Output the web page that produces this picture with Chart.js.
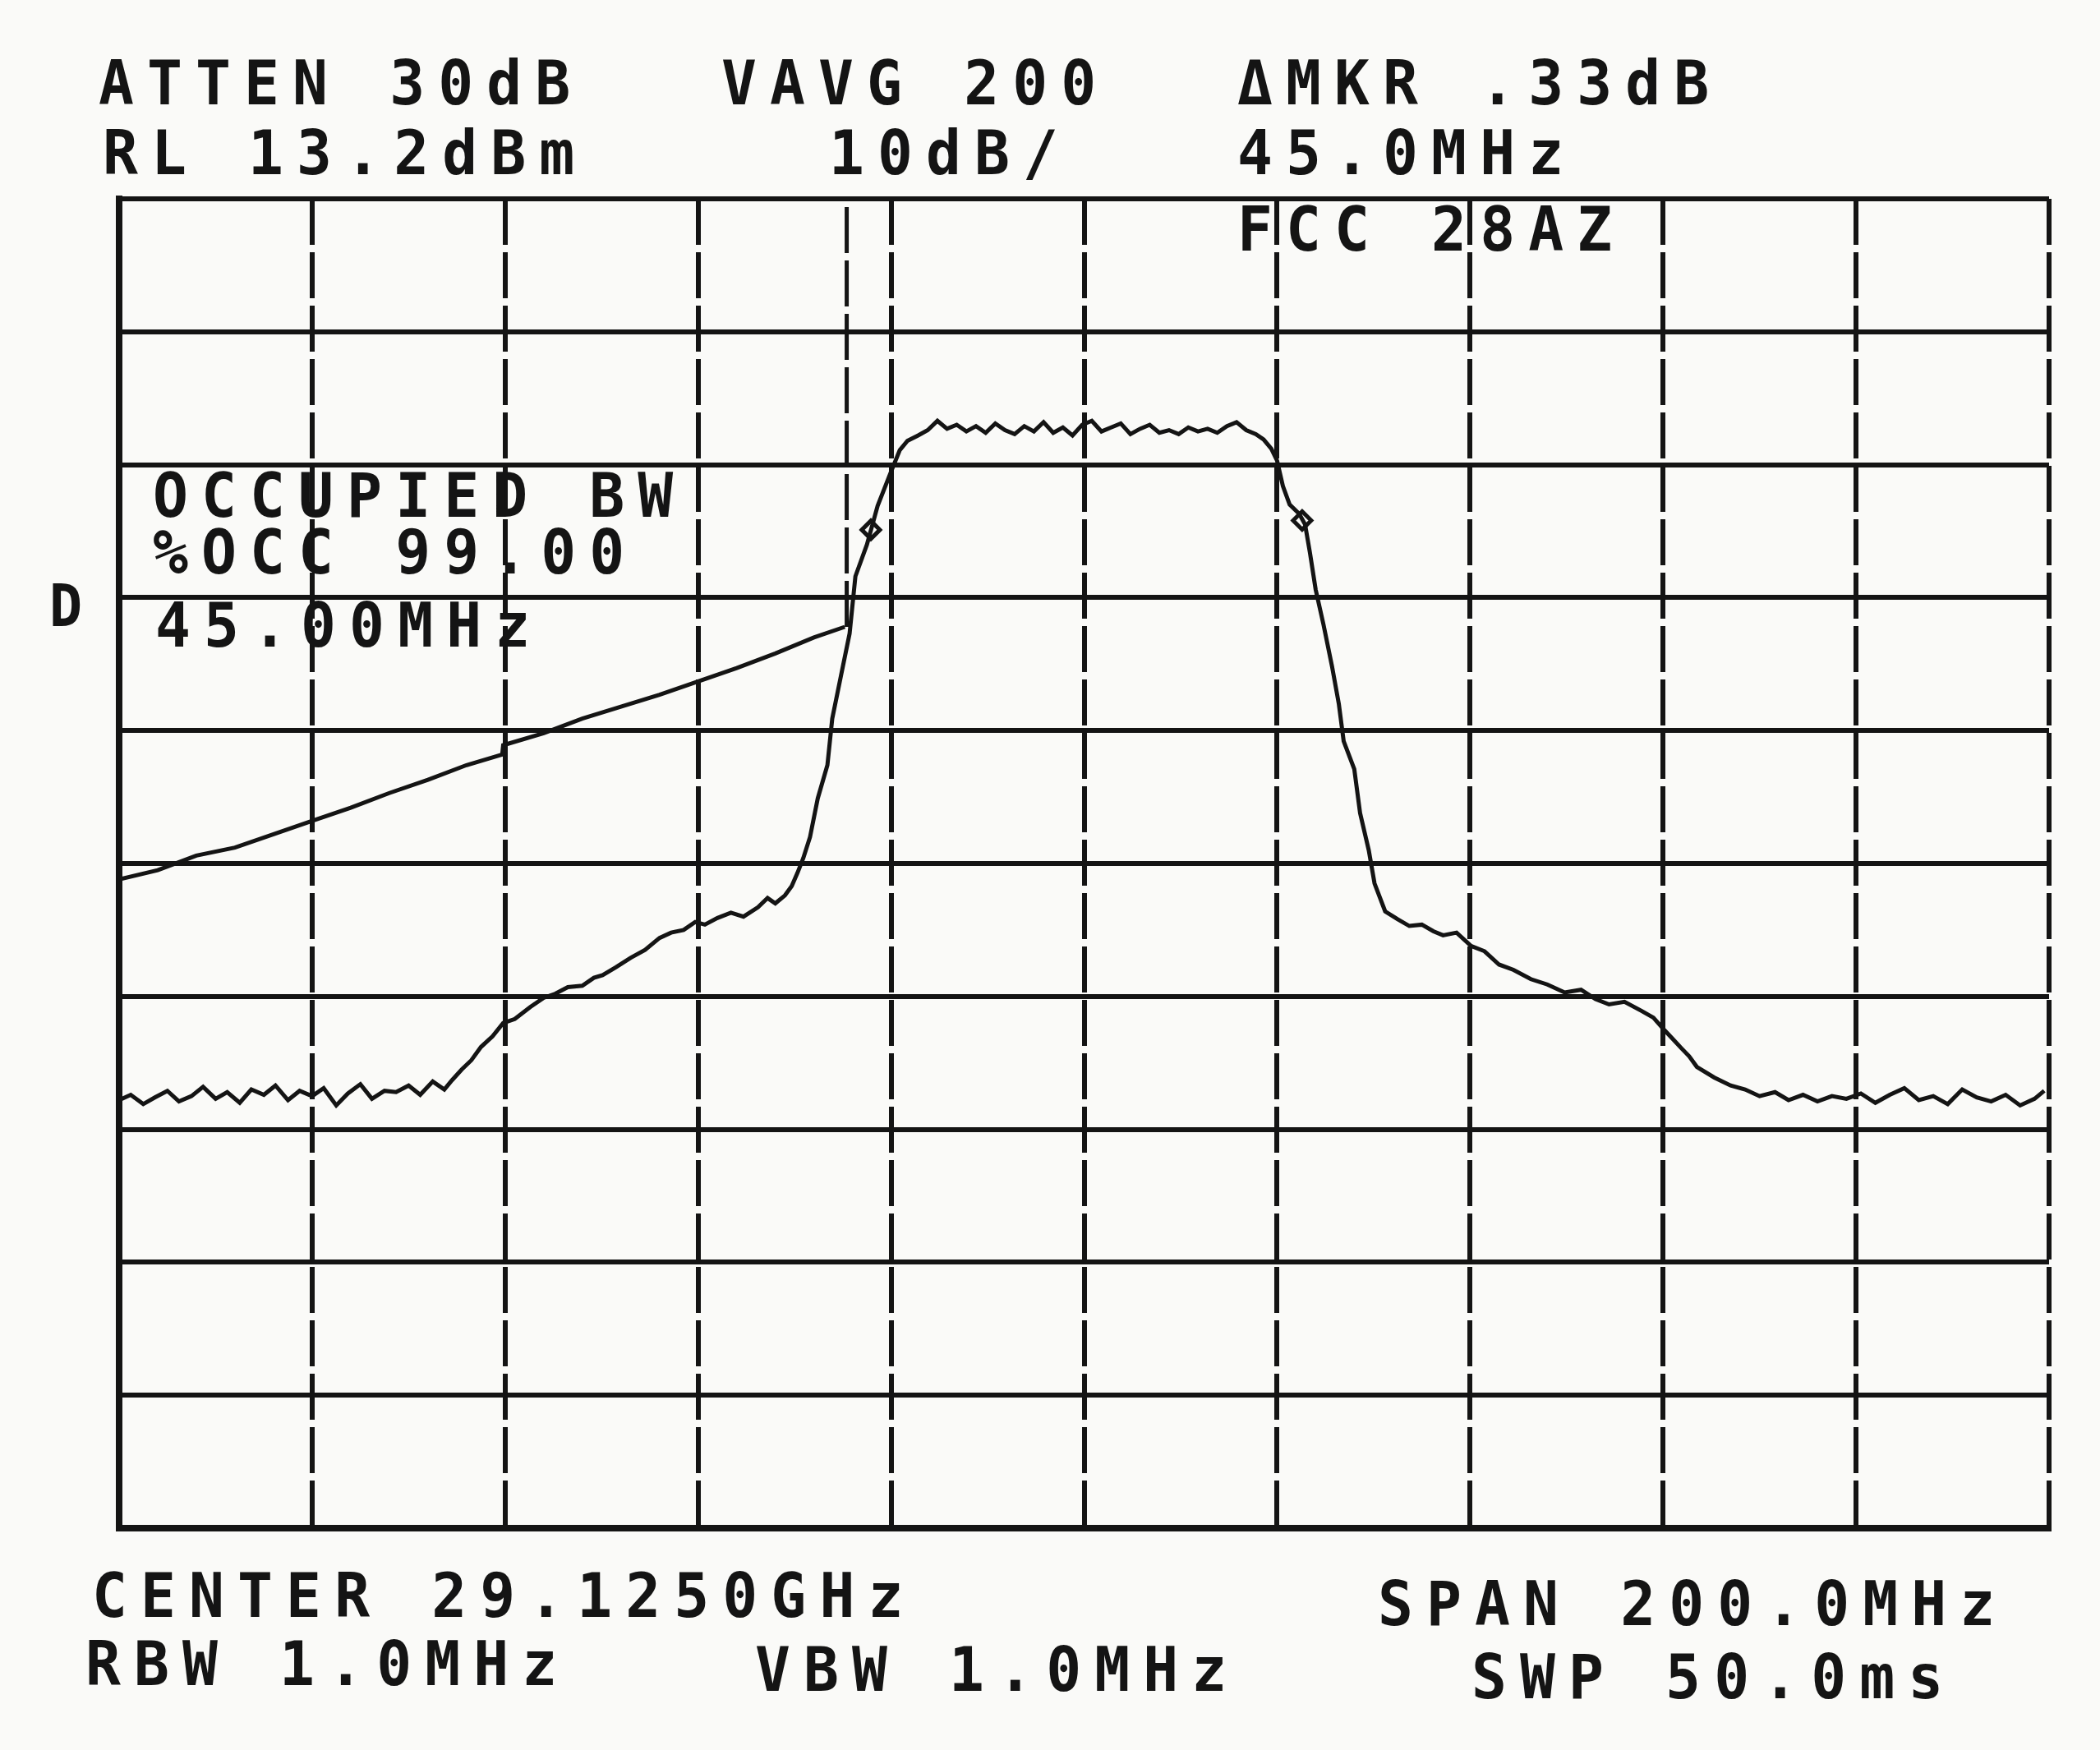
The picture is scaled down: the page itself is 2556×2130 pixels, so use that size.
<!DOCTYPE html>
<html>
<head>
<meta charset="utf-8">
<script src="https://cdn.jsdelivr.net/npm/chart.js@4.4.1/dist/chart.umd.min.js"></script>
<style>
  html, body { margin: 0; padding: 0; background: #fafaf8; }
  #wrap { position: relative; width: 2556px; height: 2130px; }
</style>
</head>
<body>
<div id="wrap"><canvas id="saChart"></canvas></div>
<script>
// frequency axis: offset from 29.1250 GHz centre, MHz (span 200 MHz, 20 MHz/div)
const xTicks = [-100, -80, -60, -40, -20, 0, 20, 40, 60, 80, 100];
// level axis: RL 13.2 dBm, 10 dB/div
const yTicks = [13.2, 3.2, -6.8, -16.8, -26.8, -36.8, -46.8, -56.8, -66.8, -76.8, -86.8];

// main spectrum trace
const traceFreq = [
  -100, -98.8, -97.5, -96.3, -95.0, -93.8, -92.5, -91.3, -90.0, -88.8,
  -87.5, -86.3, -85.0, -83.8, -82.5, -81.3, -80.0, -78.8, -77.5, -76.3,
  -75.0, -73.8, -72.5, -71.3, -70.0, -68.8, -67.5, -66.3, -65.5,
  -64.5, -63.5, -62.5, -61.3, -60.2, -59.0, -57.4, -56.0, -54.8, -53.5,
  -52.0, -50.8, -49.9, -48.5, -47.0, -45.5, -44.0, -42.8, -41.5, -40.3,
  -39.3, -38.0, -36.6, -35.3, -33.8, -32.8, -32.0, -31.0, -30.3, -29.7,
  -29.1, -28.4, -27.6, -26.6, -26.1, -25.2, -24.3, -23.7, -22.5, -21.4,
  -20.1, -19.1, -18.3,
  -17.2, -16.2, -15.2, -14.2, -13.2, -12.2, -11.2, -10.2, -9.2, -8.2,
  -7.2, -6.2, -5.2, -4.2, -3.2, -2.2, -1.2, -0.2, 0.8, 1.8,
  2.8, 3.8, 4.8, 5.8, 6.8, 7.8, 8.8, 9.8, 10.8, 11.8,
  12.8, 13.8, 14.8, 15.8, 16.8, 17.8, 18.6,
  19.4, 20.0, 20.6, 21.3, 22.3, 22.9, 23.4, 24.0, 24.8, 25.7,
  26.4, 26.9, 28.0, 28.6, 29.5, 30.1, 31.2, 32.5, 33.7, 35.0,
  36.2, 37.2, 38.6, 40.1, 41.5, 43.0, 44.5, 46.3, 48.0, 49.8,
  51.5, 53.0, 54.4, 56.0, 57.8, 59.0, 60.1, 61.0, 61.9, 62.7,
  63.5, 65.3, 67.0,
  68.5, 70.0, 71.6, 73.0, 74.5, 76.0, 77.5, 79.0, 80.5, 82.0,
  83.5, 85.0, 86.5, 88.0, 89.5, 91.0, 92.5, 94.0, 95.5, 97.0,
  98.5, 99.5
];
const traceLevel = [
  -54.6, -54.2, -54.9, -54.4, -53.9, -54.7, -54.3, -53.6, -54.5, -54.0,
  -54.8, -53.8, -54.2, -53.5, -54.6, -53.9, -54.3, -53.7, -55.0, -54.1,
  -53.4, -54.5, -53.9, -54.0, -53.5, -54.2, -53.2, -53.8, -53.1,
  -52.3, -51.6, -50.6, -49.8, -48.8, -48.5, -47.6, -46.9, -46.6, -46.1,
  -46.0, -45.4, -45.2, -44.6, -43.9, -43.3, -42.4, -42.0, -41.8, -41.2,
  -41.4, -40.9, -40.5, -40.8, -40.1, -39.4, -39.8, -39.2, -38.5, -37.5,
  -36.4, -34.8, -31.9, -29.4, -25.9, -22.7, -19.5, -15.2, -12.8, -9.9,
  -7.5, -5.7, -5.0,
  -4.6, -4.2, -3.5, -4.1, -3.8, -4.3, -3.9, -4.4, -3.7, -4.2,
  -4.5, -3.9, -4.3, -3.6, -4.4, -4.0, -4.6, -3.8, -3.5, -4.3,
  -4.0, -3.7, -4.5, -4.1, -3.8, -4.4, -4.2, -4.5, -4.0, -4.3,
  -4.1, -4.4, -3.9, -3.6, -4.2, -4.5, -4.9,
  -5.6, -6.5, -8.4, -9.8, -10.5, -11.3, -13.4, -16.2, -18.8, -22.0,
  -24.8, -27.6, -29.7, -33.0, -35.8, -38.3, -40.4, -41.0, -41.5, -41.4,
  -41.9, -42.2, -42.0, -43.0, -43.4, -44.4, -44.8, -45.5, -45.9, -46.5,
  -46.3, -47.0, -47.4, -47.2, -47.9, -48.4, -49.3, -50.0, -50.7, -51.3,
  -52.1, -52.9, -53.5,
  -53.8, -54.3, -54.0, -54.6, -54.2, -54.7, -54.3, -54.5, -54.1, -54.8,
  -54.2, -53.7, -54.6, -54.3, -54.9, -53.8, -54.4, -54.7, -54.2, -55.0,
  -54.5, -53.9
];

// occupied-bandwidth integration ramp
const rampFreq = [-100, -96, -92, -88, -84, -80, -76, -72, -68, -64, -60.3, -60.2, -56, -52, -48, -44, -40, -36, -32, -28, -24.8];
const rampLevel = [-38.0, -37.3, -36.2, -35.6, -34.6, -33.6, -32.6, -31.5, -30.5, -29.4, -28.6, -27.9, -27.0, -25.9, -25.0, -24.1, -23.1, -22.1, -21.0, -19.8, -19.0];

// lower OBW marker line
const obwLineFreq = [-24.6, -24.6];
const obwLineLevel = [-19.0, 13.2];

// marker symbols
const markerFreq = [-22.1, 22.6];
const markerLevel = [-11.7, -11.0];

const zip = (xs, ys) => xs.map((x, i) => ({ x: x, y: ys[i] }));

const ink = "#141414";

const texts = [
  // [text, x, baseline, size]
  ["ATTEN 30dB", 120, 127, 62],
  ["VAVG 200", 878, 127, 62],
  ["\u0394MKR .33dB", 1506, 127, 62],
  ["RL 13.2dBm", 125, 212, 62],
  ["10dB/", 1009, 212, 62],
  ["45.0MHz", 1506, 212, 62],
  ["FCC 28AZ", 1506, 305, 62],
  ["OCCUPIED BW", 186, 629, 62],
  ["%OCC 99.00", 186, 698, 62],
  ["45.00MHz", 189, 787, 62],
  ["D", 60, 762, 58],
  ["CENTER 29.1250GHz", 112, 1968, 62],
  ["SPAN 200.0MHz", 1677, 1978, 62],
  ["RBW 1.0MHz", 104, 2051, 62],
  ["VBW 1.0MHz", 919, 2058, 62],
  ["SWP 50.0ms", 1791, 2067, 62]
];

const paperAndText = {
  id: "paperAndText",
  beforeDraw(chart) {
    const c = chart.ctx;
    c.save();
    c.fillStyle = "#fafaf8";
    c.fillRect(0, 0, chart.width, chart.height);
    c.restore();
  },
  afterDraw(chart) {
    const c = chart.ctx;
    texts.forEach(t => {
      c.save();
      c.fillStyle = ink;
      c.font = 'bold ' + t[3] + 'px "DejaVu Sans Mono"';
      c.letterSpacing = Math.round(t[3] * 0.23) + "px";
      c.textBaseline = "alphabetic";
      c.translate(t[1], t[2]);
      c.scale(1.15, 1.22);
      c.fillText(t[0], 0, 0);
      c.restore();
    });
  }
};

const ctx = document.getElementById("saChart").getContext("2d");

const saChart = new Chart(ctx, {
  type: "line",
  data: {
    datasets: [
      {
        label: "trace",
        data: zip(traceFreq, traceLevel),
        borderColor: ink,
        borderWidth: 5,
        pointRadius: 0,
        tension: 0,
        fill: false
      },
      {
        label: "obw ramp",
        data: zip(rampFreq, rampLevel),
        borderColor: ink,
        borderWidth: 5,
        pointRadius: 0,
        tension: 0,
        fill: false
      },
      {
        label: "obw marker",
        data: zip(obwLineFreq, obwLineLevel),
        borderColor: ink,
        borderWidth: 5,
        borderDash: [56, 9],
        pointRadius: 0,
        fill: false
      },
      {
        label: "markers",
        data: zip(markerFreq, markerLevel),
        showLine: false,
        pointStyle: "rectRot",
        pointRadius: 11,
        pointBorderWidth: 5,
        pointBorderColor: ink,
        pointBackgroundColor: "#fafaf8"
      }
    ]
  },
  options: {
    responsive: true,
    maintainAspectRatio: false,
    animation: false,
    devicePixelRatio: 1,
    layout: {
      padding: { left: 145, top: 242, right: 62, bottom: 270 }
    },
    plugins: {
      legend: { display: false },
      tooltip: { enabled: false }
    },
    scales: {
      x: {
        type: "linear",
        min: -100,
        max: 100,
        afterBuildTicks: (scale) => { scale.ticks = xTicks.map(v => ({ value: v })); },
        ticks: { display: false },
        grid: { color: ink, lineWidth: 6, drawTicks: false },
        border: { display: true, color: ink, width: 8, dash: [56, 9] }
      },
      y: {
        type: "linear",
        min: -86.8,
        max: 13.2,
        afterBuildTicks: (scale) => { scale.ticks = yTicks.map(v => ({ value: v })); },
        ticks: { display: false },
        grid: { color: ink, lineWidth: 6, drawTicks: false },
        border: { display: true, color: ink, width: 8 }
      }
    }
  },
  plugins: [paperAndText]
});
</script>
</body>
</html>
